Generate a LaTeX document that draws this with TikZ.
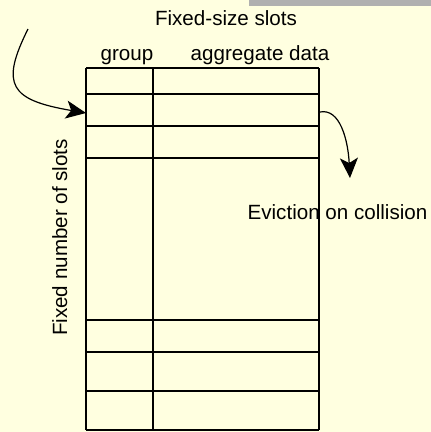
\documentclass[tikz,border=0pt]{standalone}
\usepackage{fontspec}
\setmainfont{Liberation Sans}
\usetikzlibrary{arrows.meta}
\definecolor{bg}{HTML}{FFFFE0}
\definecolor{bar}{HTML}{B0B0B0}
\begin{document}
\begin{tikzpicture}[x=1pt,y=-1pt,
  lbl/.style={font=\fontsize{20.6}{24}\selectfont, inner sep=0pt, anchor=base},
  grid/.style={line width=1.2pt, black},
  conn/.style={line width=1.2pt, -{Stealth[length=20pt,width=18pt,inset=5pt]}}]
\useasboundingbox (0,0) rectangle (431,432);
\fill[bg] (0,0) rectangle (431,432);
\fill[bar] (249,0) rectangle (431,6);
% table
\foreach \yy in {68,94,126,158,320,352,391,430}
  \draw[grid] (86,\yy) -- (319,\yy);
\foreach \xx in {86,153,319}
  \draw[grid] (\xx,68) -- (\xx,430);
\node[lbl] (title) at (226,25) {Fixed-size slots};
\node[lbl] (grp) at (127,60) {group};
\node[lbl] (agg) at (260,60) {aggregate data};
\node[lbl] (evict) at (337.5,219) {Eviction on collision};
\node[lbl, rotate=90] (nslots) at (67,237.5) {Fixed number of slots};
\coordinate (inStart) at (28,29);
\coordinate (inEnd) at (86,113);
\coordinate (outStart) at (320,112);
\coordinate (outEnd) at (350,178);
\draw[conn] (inStart) .. controls (0,85) and (10,100) .. (inEnd);
\draw[conn] (outStart) .. controls (340,108) and (348,140) .. (outEnd);
\end{tikzpicture}
\end{document}
